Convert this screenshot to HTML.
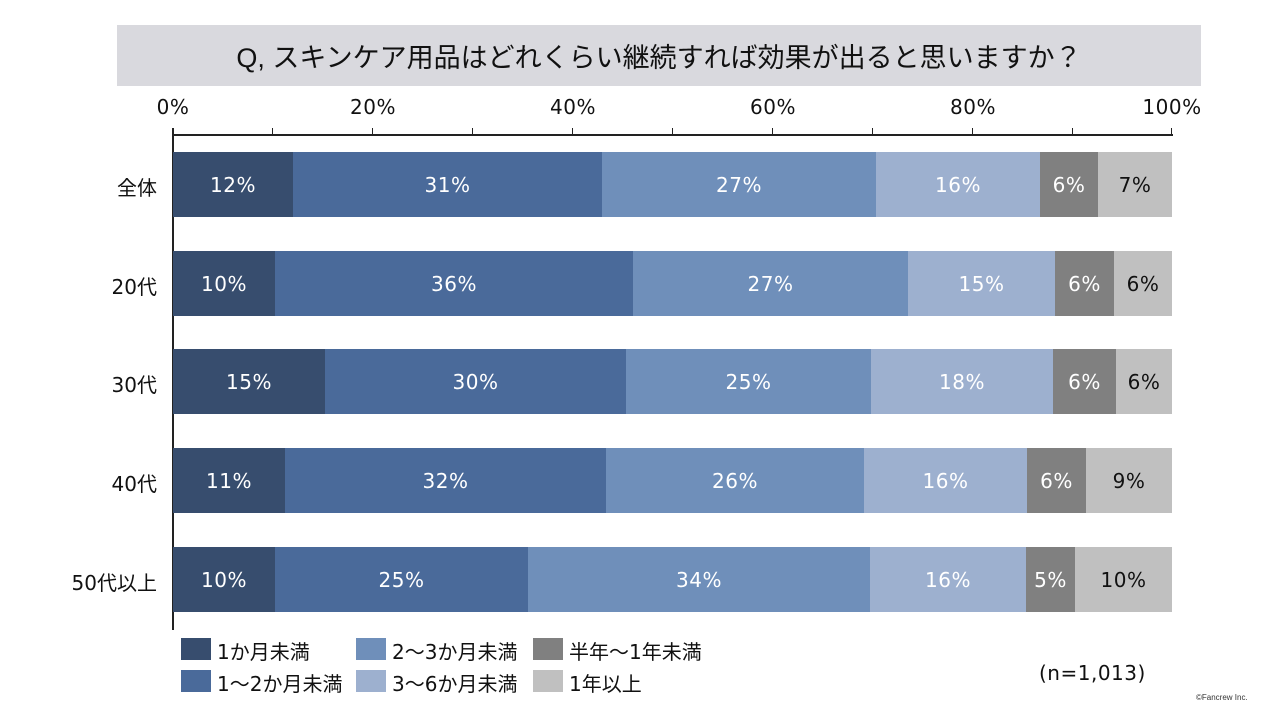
<!DOCTYPE html><html><head><meta charset="utf-8"><style>
body{margin:0;width:1281px;height:720px;background:#fff;position:relative;overflow:hidden;font-family:"DejaVu Sans","Noto Sans CJK JP",sans-serif;color:#111}
div{position:absolute;white-space:nowrap}
.t{font-size:20px;letter-spacing:0.5px;transform:translateX(-50%);top:95px}
.s{height:65px;display:flex;align-items:center;justify-content:center;font-size:20px;letter-spacing:0.5px;color:#fff}
.rl{font-size:20px;right:1124px;text-align:right}
.lg{width:30px;height:22px}
.lt{font-size:20px}
</style></head><body>
<div style="left:117px;top:25px;width:1084px;height:61px;background:#d9d9de;display:flex;align-items:center;justify-content:center;font-size:27px;font-family:'Liberation Sans','Noto Sans CJK JP',sans-serif">Q, スキンケア用品はどれくらい継続すれば効果が出ると思いますか？</div>
<div class="t" style="left:173px">0%</div><div class="t" style="left:373px">20%</div><div class="t" style="left:573px">40%</div><div class="t" style="left:773px">60%</div><div class="t" style="left:973px">80%</div><div class="t" style="left:1172px">100%</div>
<div style="left:173px;top:134px;width:1000px;height:2px;background:#222"></div>
<div style="left:172px;top:128px;width:2px;height:502px;background:#222"></div>
<div style="left:272px;top:128px;width:1px;height:7px;background:#222"></div>
<div style="left:372px;top:128px;width:1px;height:7px;background:#222"></div>
<div style="left:472px;top:128px;width:1px;height:7px;background:#222"></div>
<div style="left:572px;top:128px;width:1px;height:7px;background:#222"></div>
<div style="left:672px;top:128px;width:1px;height:7px;background:#222"></div>
<div style="left:772px;top:128px;width:1px;height:7px;background:#222"></div>
<div style="left:872px;top:128px;width:1px;height:7px;background:#222"></div>
<div style="left:972px;top:128px;width:1px;height:7px;background:#222"></div>
<div style="left:1072px;top:128px;width:1px;height:7px;background:#222"></div>
<div style="left:1171px;top:128px;width:1px;height:7px;background:#222"></div>

<div class="rl" style="top:172px">全体</div>
<div class="s" style="top:152px;left:173px;width:120px;background:#374d6e">12%</div>
<div class="s" style="top:152px;left:293px;width:309px;background:#4a6a9a">31%</div>
<div class="s" style="top:152px;left:602px;width:274px;background:#6f8fba">27%</div>
<div class="s" style="top:152px;left:876px;width:164px;background:#9db0cf">16%</div>
<div class="s" style="top:152px;left:1040px;width:58px;background:#808080">6%</div>
<div class="s" style="top:152px;left:1098px;width:74px;background:#c0c0c0;color:#111">7%</div>

<div class="rl" style="top:271px">20代</div>
<div class="s" style="top:251px;left:173px;width:102px;background:#374d6e">10%</div>
<div class="s" style="top:251px;left:275px;width:358px;background:#4a6a9a">36%</div>
<div class="s" style="top:251px;left:633px;width:275px;background:#6f8fba">27%</div>
<div class="s" style="top:251px;left:908px;width:147px;background:#9db0cf">15%</div>
<div class="s" style="top:251px;left:1055px;width:59px;background:#808080">6%</div>
<div class="s" style="top:251px;left:1114px;width:58px;background:#c0c0c0;color:#111">6%</div>

<div class="rl" style="top:369px">30代</div>
<div class="s" style="top:349px;left:173px;width:152px;background:#374d6e">15%</div>
<div class="s" style="top:349px;left:325px;width:301px;background:#4a6a9a">30%</div>
<div class="s" style="top:349px;left:626px;width:245px;background:#6f8fba">25%</div>
<div class="s" style="top:349px;left:871px;width:182px;background:#9db0cf">18%</div>
<div class="s" style="top:349px;left:1053px;width:63px;background:#808080">6%</div>
<div class="s" style="top:349px;left:1116px;width:56px;background:#c0c0c0;color:#111">6%</div>

<div class="rl" style="top:468px">40代</div>
<div class="s" style="top:448px;left:173px;width:112px;background:#374d6e">11%</div>
<div class="s" style="top:448px;left:285px;width:321px;background:#4a6a9a">32%</div>
<div class="s" style="top:448px;left:606px;width:258px;background:#6f8fba">26%</div>
<div class="s" style="top:448px;left:864px;width:163px;background:#9db0cf">16%</div>
<div class="s" style="top:448px;left:1027px;width:59px;background:#808080">6%</div>
<div class="s" style="top:448px;left:1086px;width:86px;background:#c0c0c0;color:#111">9%</div>

<div class="rl" style="top:567px">50代以上</div>
<div class="s" style="top:547px;left:173px;width:102px;background:#374d6e">10%</div>
<div class="s" style="top:547px;left:275px;width:253px;background:#4a6a9a">25%</div>
<div class="s" style="top:547px;left:528px;width:342px;background:#6f8fba">34%</div>
<div class="s" style="top:547px;left:870px;width:156px;background:#9db0cf">16%</div>
<div class="s" style="top:547px;left:1026px;width:49px;background:#808080">5%</div>
<div class="s" style="top:547px;left:1075px;width:97px;background:#c0c0c0;color:#111">10%</div>

<div class="lg" style="left:181px;top:638px;background:#374d6e"></div><div class="lt" style="left:217px;top:636px">1か月未満</div>
<div class="lg" style="left:181px;top:670px;background:#4a6a9a"></div><div class="lt" style="left:217px;top:668px">1～2か月未満</div>
<div class="lg" style="left:356px;top:638px;background:#6f8fba"></div><div class="lt" style="left:392px;top:636px">2～3か月未満</div>
<div class="lg" style="left:356px;top:670px;background:#9db0cf"></div><div class="lt" style="left:392px;top:668px">3～6か月未満</div>
<div class="lg" style="left:533px;top:638px;background:#808080"></div><div class="lt" style="left:569px;top:636px">半年～1年未満</div>
<div class="lg" style="left:533px;top:670px;background:#c0c0c0"></div><div class="lt" style="left:569px;top:668px">1年以上</div>
<div style="left:1039px;top:661px;font-size:20px;letter-spacing:0.5px">(n=1,013)</div>
<div style="left:1196px;top:693px;font-size:8px;color:#333;font-family:'Liberation Sans',sans-serif">©Fancrew Inc.</div>
</body></html>
